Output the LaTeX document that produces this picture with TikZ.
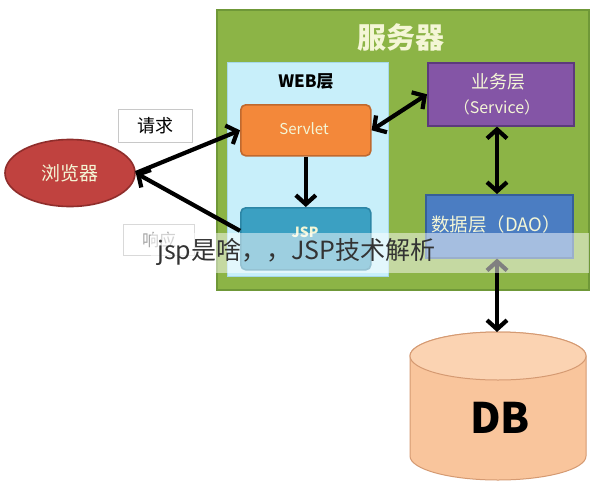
\documentclass[tikz,border=0pt]{standalone}
\usepackage{fontspec}
\setmainfont{Noto Sans CJK SC}
\usetikzlibrary{arrows.meta,shapes.geometric}
\definecolor{gfill}{HTML}{8CB446}
\definecolor{gborder}{HTML}{6F9838}
\definecolor{webfill}{HTML}{C8EFFA}
\definecolor{webborder}{HTML}{A6D8EA}
\definecolor{orfill}{HTML}{F3883A}
\definecolor{orborder}{HTML}{C0692E}
\definecolor{jspfill}{HTML}{3BA0C2}
\definecolor{jspborder}{HTML}{2C86A6}
\definecolor{purfill}{HTML}{8455A6}
\definecolor{purborder}{HTML}{5C3A7C}
\definecolor{daofill}{HTML}{4B7DC2}
\definecolor{daoborder}{HTML}{365F98}
\definecolor{brfill}{HTML}{C0423F}
\definecolor{brborder}{HTML}{8F2D2B}
\definecolor{dbfill}{HTML}{F9C59C}
\definecolor{dbtopfill}{HTML}{FBD3B2}
\definecolor{dbborder}{HTML}{D59A72}
\definecolor{cream}{HTML}{F4F6D6}
\definecolor{txtgray}{HTML}{333333}
\definecolor{lblborder}{HTML}{C8C8C8}
\tikzset{
  box/.style={anchor=north west, inner sep=0pt, line width=1.6pt},
  comp/.style={box, rounded corners=5pt},
  lbl/.style={box, draw=lblborder, fill=white, line width=1pt},
  arr/.style={line width=4.2pt, -{Straight Barb[length=9pt,width=20pt]}},
  darr/.style={line width=4.2pt, {Straight Barb[length=9pt,width=20pt]}-{Straight Barb[length=9pt,width=20pt]}}
}
\begin{document}
\begin{tikzpicture}[x=1pt,y=-1pt]
\useasboundingbox[fill=white] (0,0) rectangle (594,490);
% server
\node[box, draw=gborder, fill=gfill, minimum width=372pt, minimum height=280pt] (server) at (216,9) {};
\node[text=cream, font=\bfseries\fontsize{29}{29}\selectfont] (title) at (401,37) {服务器};
% web layer
\node[box, draw=webborder, fill=webfill, line width=1pt, minimum width=161pt, minimum height=214pt] (web) at (227,62) {};
\node[font=\bfseries\fontsize{17}{17}\selectfont] (webtitle) at (306,81) {WEB层};
\node[comp, draw=orborder, fill=orfill, minimum width=130pt, minimum height=51pt] (servlet) at (240,104) {};
\node[text=cream, font=\fontsize{15}{15}\selectfont] (servlettxt) at (304,129) {Servlet};
\node[comp, draw=jspborder, fill=jspfill, minimum width=130pt, minimum height=62pt] (jsp) at (240,207) {};
\node[text=cream, font=\bfseries\fontsize{14}{14}\selectfont] (jsptxt) at (305,232) {JSP};
% service
\node[box, draw=purborder, fill=purfill, minimum width=146pt, minimum height=63pt] (service) at (427,62) {};
\node[text=cream, font=\fontsize{18}{18}\selectfont] (servicet1) at (498,82) {业务层};
\node[text=cream, font=\fontsize{16}{16}\selectfont] (servicet2) at (497,107) {（Service）};
% dao
\node[box, draw=daoborder, fill=daofill, minimum width=147pt, minimum height=63pt] (dao) at (425,194) {};
\node[text=cream, font=\fontsize{18.5}{18.5}\selectfont] (daot) at (496,224) {数据层（DAO）};
% browser
\node[ellipse, draw=brborder, fill=brfill, line width=1.6pt, minimum width=130pt, minimum height=67pt, inner sep=0pt, text=cream, font=\fontsize{19}{19}\selectfont] (browser) at (70,173) {浏览器};
% labels
\node[lbl, minimum width=74pt, minimum height=33pt] (req) at (118,109) {};
\node[font=\fontsize{18}{18}\selectfont] (reqt) at (req.center) {请求};
\node[lbl, draw=lblborder!70, minimum width=71pt, minimum height=31pt] (resp) at (123,224) {};
\node[text=gray!70, font=\fontsize{17}{17}\selectfont] (respt) at (resp.center) {响应};
% DB cylinder
\path[fill=dbfill, draw=dbborder, line width=1pt] (410,356) -- (410,456) arc[start angle=180, end angle=0, x radius=88, y radius=24] -- (586,356) arc[start angle=0, end angle=-180, x radius=88, y radius=24] -- cycle;
\draw[fill=dbtopfill, draw=dbborder, line width=1pt] (498,356) ellipse [x radius=88, y radius=24];
\coordinate (dbtop) at (497,332);
\coordinate (xcol) at (497,0);
\node[font=\bfseries\fontsize{42}{42}\selectfont] (dbt) at (500,418) {DB};
% arrows
\draw[arr] (browser.east) -- (servlet.west);
\draw[arr] ([yshift=8pt]jsp.west) -- (browser.east);
\draw[darr] (servlet.east) -- (service.west);
\draw[arr] (servlet.south) -- (jsp.north);
\draw[darr] (xcol |- service.south) -- (xcol |- dao.north);
\draw[darr] (xcol |- dao.south) -- (dbtop);
% banner
\node[box, fill=white, fill opacity=0.5, minimum width=438pt, minimum height=40pt] (band) at (150,232) {};
\node[anchor=west, inner sep=0pt, text=txtgray, font=\fontsize{25}{25}\selectfont] (caption) at (157,252) {jsp是啥，，JSP技术解析};
\end{tikzpicture}
\end{document}
